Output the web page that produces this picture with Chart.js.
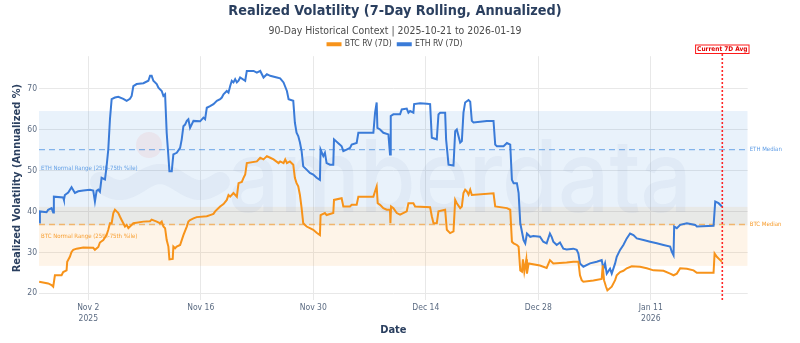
<!DOCTYPE html>
<html><head><meta charset="utf-8">
<script src="https://cdn.jsdelivr.net/npm/chart.js@4.4.1/dist/chart.umd.min.js"></script>
<style>html,body{margin:0;padding:0;background:#fff;overflow:hidden}#wrap{width:800px;height:343px}</style>
</head><body><div id="wrap"><canvas id="c" width="800" height="343"></canvas></div>
<script>
// x values: days since 2025-11-02 00:00
const tickDays = [0, 14, 28, 42, 56, 70];
const tickLabels = [['Nov 2', '2025'], ['Nov 16'], ['Nov 30'], ['Dec 14'], ['Dec 28'], ['Jan 11', '2026']];
const yTicks = [20, 30, 40, 50, 60, 70];
const xRange = [-6.13, 82.06];
const yRange = [18.36, 77.9];

const ethDays = [-6.11,-6.02,-5.19,-4.99,-4.57,-4.36,-4.28,-3.12,-3.03,-2.91,-2.49,-2.08,-1.66,-1.25,-0.62,0.21,0.62,0.83,1.04,1.25,1.45,1.66,2.08,2.28,2.49,2.70,2.91,3.32,3.74,4.36,4.78,5.19,5.40,5.61,6.02,6.86,7.48,7.69,7.89,8.10,8.52,8.73,9.14,9.35,9.56,9.76,9.97,10.10,10.39,10.59,11.01,11.43,11.63,11.84,12.05,12.26,12.46,12.67,13.09,13.92,14.33,14.54,14.75,15.16,15.58,16.00,16.41,16.62,16.83,17.24,17.45,17.66,17.86,18.07,18.28,18.49,18.70,18.90,19.53,19.73,20.57,20.98,21.40,21.81,22.23,22.64,23.47,23.88,24.30,24.72,24.93,25.51,25.71,25.92,26.13,26.34,26.55,26.75,27.17,27.58,28.00,28.42,28.83,28.91,29.25,29.45,29.66,30.08,30.49,30.58,31.32,31.53,31.74,32.15,32.57,32.78,33.40,33.61,35.48,35.69,35.89,35.98,36.31,36.72,37.35,37.55,37.64,37.97,38.80,39.01,39.63,39.84,40.05,40.46,40.55,41.29,42.13,42.54,42.75,43.37,43.58,43.79,44.41,44.53,44.83,45.45,45.66,45.86,46.28,46.49,46.69,46.90,47.32,47.53,47.73,47.94,49.60,50.43,50.64,50.85,51.68,52.10,52.51,52.72,52.93,53.34,53.55,53.76,54.17,54.38,54.59,55.00,55.38,56.21,56.62,57.04,57.45,57.66,57.87,58.29,58.70,59.12,59.53,60.36,60.78,60.99,61.19,61.61,62.44,63.27,63.89,64.10,64.31,64.52,64.93,65.14,65.56,65.76,66.18,66.59,67.01,67.42,67.84,68.26,69.09,69.92,70.75,71.58,72.41,72.62,72.83,72.91,73.24,73.66,74.49,75.53,75.73,77.81,78.02,78.43,78.85];
const ethValues = [37.3,40.0,39.8,40.4,40.8,39.7,43.6,43.4,42.8,44.0,44.6,45.9,44.5,44.9,45.1,45.3,45.1,42.4,45.0,45.3,44.8,48.2,47.8,51.0,55.1,62.5,67.4,67.8,68.0,67.5,67.0,67.5,68.2,70.6,71.1,71.3,71.9,73.1,73.1,71.9,71.1,70.2,69.4,68.2,68.6,59.2,53.5,49.8,49.8,53.9,54.3,55.5,57.6,60.8,61.2,62.1,62.5,60.4,62.1,62.0,62.9,62.5,65.3,65.7,66.2,67.0,67.4,67.8,68.6,69.4,69.0,70.6,71.9,71.5,72.3,71.5,71.9,72.7,71.9,74.3,74.3,73.9,74.3,72.7,73.5,73.1,72.7,72.5,71.5,69.4,67.4,67.0,61.7,59.2,58.4,56.8,54.7,51.0,50.2,49.4,49.0,48.2,47.7,55.1,53.5,54.3,51.8,51.4,51.4,57.6,56.3,55.9,54.7,55.1,55.5,56.3,56.7,59.2,59.2,64.1,66.6,60.4,60.0,59.2,58.8,53.9,63.3,63.7,63.7,64.9,65.1,64.1,64.5,64.1,66.2,66.4,66.3,66.2,58.0,57.6,63.7,64.1,64.1,57.6,51.4,51.2,59.6,60.0,56.8,57.2,64.1,66.6,67.2,66.8,62.1,61.7,62.1,62.1,56.3,55.9,55.9,56.7,56.3,47.7,46.9,46.9,44.5,37.1,33.0,32.2,34.6,33.8,34.0,33.8,32.6,32.2,34.6,33.8,32.6,31.8,32.4,30.9,30.7,30.9,30.6,29.7,27.3,26.5,27.3,27.7,28.1,26.0,27.3,24.8,26.0,24.8,27.3,28.9,30.6,31.8,33.4,34.6,34.2,33.4,33.0,32.6,32.2,31.8,31.4,30.1,29.3,36.3,35.9,36.7,37.1,36.7,36.3,36.5,42.4,42.0,41.2];

const btcDays = [-6.11,-4.99,-4.57,-4.36,-4.15,-3.32,-3.12,-2.70,-2.62,-2.29,-2.08,-1.87,-1.45,-0.62,0.62,0.83,1.25,1.45,1.87,2.28,2.49,2.70,2.91,3.12,3.32,3.53,3.74,3.95,4.15,4.36,4.57,4.78,4.99,5.61,6.86,7.69,7.89,8.52,8.93,9.14,9.35,9.56,9.76,9.97,10.10,10.51,10.59,10.80,11.01,11.43,11.84,12.26,12.46,12.67,13.09,13.50,14.75,15.16,15.58,15.79,16.41,16.83,17.24,17.45,17.66,18.07,18.49,18.70,19.11,19.32,19.53,19.73,20.98,21.40,21.81,22.23,22.64,23.06,23.68,23.88,24.30,24.51,24.72,25.09,25.51,25.71,25.92,26.13,26.34,26.55,26.75,27.17,27.58,28.00,28.42,28.83,28.91,29.45,29.66,30.49,30.58,31.53,31.74,32.57,32.78,33.40,33.61,35.48,35.69,35.89,36.02,36.31,36.72,37.14,37.55,37.60,37.68,37.97,38.39,38.80,39.63,39.84,40.46,40.67,42.54,42.75,42.96,43.37,43.58,44.41,44.62,45.03,45.45,45.66,45.86,46.28,46.49,46.69,46.90,47.11,47.32,47.53,47.73,50.43,50.64,52.10,52.51,52.72,52.93,53.34,53.55,53.76,53.97,54.09,54.26,54.51,54.59,54.80,56.21,57.04,57.45,57.87,59.53,60.36,60.99,61.19,61.40,61.61,62.86,63.89,64.02,64.18,64.43,64.60,65.14,65.56,65.76,66.18,66.59,67.01,67.63,68.67,69.50,70.33,71.58,72.41,72.83,73.24,73.66,74.49,75.32,75.73,77.81,77.94,78.22,78.64,78.85];
const btcValues = [22.8,22.4,22.0,21.6,24.4,24.4,25.2,25.6,27.7,28.9,30.1,30.6,30.9,31.2,31.1,30.6,31.3,32.4,33.0,34.2,35.5,37.1,37.1,39.6,40.4,40.0,39.6,38.7,37.9,37.1,36.3,36.7,35.9,37.1,37.5,37.6,38.0,37.5,37.1,37.5,36.3,35.9,33.0,31.4,28.3,28.4,31.4,31.0,31.4,31.8,34.2,36.3,37.5,37.9,38.3,38.6,38.8,39.1,39.4,40.0,41.2,41.8,42.8,44.0,43.6,44.5,43.6,46.9,47.2,48.2,49.0,51.8,52.2,53.1,52.7,53.5,53.1,52.7,51.8,52.2,51.8,52.7,51.8,52.2,51.4,48.2,46.9,46.1,44.0,40.8,37.1,36.3,35.9,35.5,34.8,34.2,39.1,39.6,39.1,39.6,42.8,43.2,41.2,41.2,41.6,41.6,43.6,43.6,44.9,46.1,42.0,41.6,40.8,40.4,40.4,37.1,41.2,40.8,39.6,39.2,40.0,42.0,42.0,41.2,41.0,38.8,37.1,37.1,40.0,40.4,35.5,34.7,35.1,42.8,42.0,40.8,41.2,44.5,45.3,44.9,44.1,45.3,44.0,44.4,41.2,40.8,40.4,32.6,32.2,31.8,31.4,25.6,25.3,28.3,25.3,28.3,24.8,27.3,26.8,26.2,28.1,27.3,27.5,27.7,27.7,24.4,23.2,22.8,23.1,23.5,26.8,23.2,21.6,20.7,21.6,23.2,24.4,25.2,25.5,26.1,26.6,26.5,26.1,25.6,25.5,24.8,24.4,24.8,26.1,26.0,25.6,25.0,25.0,29.7,28.9,28.1,27.7];

const btcBand = [26.7, 41.1];
const ethBand = [36.6, 64.5];
const btcMedian = 36.8;
const ethMedian = 55.1;
const currentDay = 78.9;

const BTC = '#F7931A', ETH = '#3a7bd8';
const FONT = '"Liberation Sans Narrow", "DejaVu Sans Condensed", "Open Sans", sans-serif';
const NAVY = '#2a3f5f', TICK = '#5b6b82';
Chart.defaults.font.family = FONT;

const pts = (xs, ys) => xs.map((x, i) => ({x, y: ys[i]}));

const deco = {
  id: 'deco',
  afterInit(chart) {
    const lg = chart.legend;
    if (lg) { const f = lg.fit.bind(lg); lg.fit = function () { f(); this.height -= 2.25; }; }
  },
  beforeDatasetsDraw(chart) {
    const {ctx, chartArea: a, scales: {x, y}} = chart;
    ctx.save();
    ctx.beginPath(); ctx.rect(a.left, a.top, a.right - a.left, a.bottom - a.top); ctx.clip();
    const band = (b, col) => {
      const t = y.getPixelForValue(b[1]), bt = y.getPixelForValue(b[0]);
      ctx.fillStyle = col; ctx.fillRect(a.left, t, a.right - a.left, bt - t);
    };
    band(btcBand, 'rgba(247,147,26,0.10)');
    band(ethBand, 'rgba(74,144,226,0.12)');
    // watermark
    ctx.fillStyle = 'rgba(140,155,195,0.10)';
    ctx.font = '500 100px Inter, "Noto Sans", sans-serif';
    const w = ctx.measureText('amberdata').width;
    const s = 464 / w;
    ctx.save(); ctx.translate(228, 212); ctx.scale(s, 1);
    ctx.textBaseline = 'alphabetic'; ctx.fillText('amberdata', 0, 0); ctx.restore();
    ctx.fillStyle = 'rgba(235,160,170,0.16)';
    ctx.beginPath(); ctx.arc(149, 145, 13, 0, Math.PI * 2); ctx.fill();
    ctx.strokeStyle = 'rgba(140,155,195,0.10)'; ctx.lineWidth = 20; ctx.lineCap = 'round';
    ctx.beginPath();
    for (let i = 0; i <= 40; i++) { const px = 100 + i * 3; const py = 182 + 8 * Math.sin(i / 40 * Math.PI * 3); if (i === 0) ctx.moveTo(px, py); else ctx.lineTo(px, py); }
    ctx.stroke();
    // medians
    ctx.lineWidth = 1.3; ctx.setLineDash([6, 4]); ctx.lineCap = 'butt';
    const med = (v, col) => { const py = y.getPixelForValue(v); ctx.strokeStyle = col; ctx.beginPath(); ctx.moveTo(a.left, py); ctx.lineTo(a.right, py); ctx.stroke(); };
    med(ethMedian, 'rgba(74,144,226,0.65)');
    med(btcMedian, 'rgba(247,147,26,0.6)');
    ctx.setLineDash([]);
    // band labels
    ctx.font = '6px ' + FONT; ctx.textBaseline = 'middle'; ctx.textAlign = 'left';
    ctx.fillStyle = 'rgba(74,144,226,0.85)';
    ctx.fillText('ETH Normal Range (25th-75th %ile)', a.left + 2, (y.getPixelForValue(ethBand[0]) + y.getPixelForValue(ethBand[1])) / 2);
    ctx.fillStyle = 'rgba(247,147,26,0.9)';
    ctx.fillText('BTC Normal Range (25th-75th %ile)', a.left + 2, (y.getPixelForValue(btcBand[0]) + y.getPixelForValue(btcBand[1])) / 2);
    ctx.restore();
  },
  afterDraw(chart) {
    const {ctx, chartArea: a, scales: {x, y}} = chart;
    ctx.save();
    ctx.font = '6px ' + FONT; ctx.textBaseline = 'middle'; ctx.textAlign = 'left';
    ctx.fillStyle = 'rgba(74,144,226,0.9)';
    ctx.fillText('ETH Median', a.right + 2, y.getPixelForValue(ethMedian));
    ctx.fillStyle = 'rgba(247,147,26,0.95)';
    ctx.fillText('BTC Median', a.right + 2, y.getPixelForValue(btcMedian));
    const px = x.getPixelForValue(currentDay);
    ctx.strokeStyle = 'rgba(255,0,0,0.85)'; ctx.lineWidth = 1.6; ctx.setLineDash([2, 2]);
    ctx.beginPath(); ctx.moveTo(px, 54); ctx.lineTo(px, a.bottom + 2); ctx.stroke();
    ctx.setLineDash([]);
    ctx.font = 'bold 6.5px ' + FONT;
    const tw = ctx.measureText('Current 7D Avg').width;
    const bw = tw + 4, bh = 9.5, bx = px - bw / 2, by = 44.5;
    ctx.fillStyle = '#fff'; ctx.fillRect(bx, by, bw, bh);
    ctx.strokeStyle = 'rgba(255,0,0,0.9)'; ctx.lineWidth = 1; ctx.strokeRect(bx + 0.5, by + 0.5, bw - 1, bh - 1);
    ctx.fillStyle = '#e00000'; ctx.textAlign = 'center';
    ctx.fillText('Current 7D Avg', px, by + bh / 2 + 0.5);
    ctx.restore();
  }
};

new Chart(document.getElementById('c'), {
  type: 'line',
  data: {
    datasets: [
      {label: 'BTC RV (7D)', data: pts(btcDays, btcValues), borderColor: BTC, backgroundColor: BTC, borderWidth: 2, pointRadius: 0, tension: 0},
      {label: 'ETH RV (7D)', data: pts(ethDays, ethValues), borderColor: ETH, backgroundColor: ETH, borderWidth: 2, pointRadius: 0, tension: 0}
    ]
  },
  options: {
    responsive: false, animation: false, devicePixelRatio: 1,
    layout: {padding: {left: 0, right: 10, top: 0, bottom: 0}},
    plugins: {
      title: {display: true, text: 'Realized Volatility (7-Day Rolling, Annualized)', color: NAVY, font: {size: 14.3, weight: 'bold'}, padding: {top: 3, bottom: 0}},
      subtitle: {display: true, text: '90-Day Historical Context | 2025-10-21 to 2026-01-19', color: '#4a4a4a', font: {size: 10.4}, padding: {top: 4.5, bottom: -3.3}},
      legend: {display: true, position: 'top', labels: {boxWidth: 13, boxHeight: 2, padding: 6, color: '#444', font: {size: 8.6}}},
      tooltip: {enabled: false}
    },
    scales: {
      x: {
        type: 'linear', min: xRange[0], max: xRange[1],
        afterBuildTicks: s => { s.ticks = tickDays.map(v => ({value: v})); },
        ticks: {callback: v => { const i = tickDays.indexOf(v); return i >= 0 ? tickLabels[i] : ''; }, autoSkip: false, maxRotation: 0, padding: 3, color: TICK, font: {size: 8.5}},
        grid: {color: '#e8e8e8', drawTicks: false}, border: {display: false},
        title: {display: true, text: 'Date', color: NAVY, font: {size: 11, weight: 'bold'}, padding: {top: 0, bottom: 6.4}},
        afterFit: s => { s.height = 43; }
      },
      y: {
        min: yRange[0], max: yRange[1],
        afterBuildTicks: s => { s.ticks = yTicks.map(v => ({value: v})); },
        ticks: {padding: 2, color: TICK, font: {size: 8.5}},
        grid: {color: '#e8e8e8', drawTicks: false}, border: {display: false},
        title: {display: true, text: 'Realized Volatility (Annualized %)', color: NAVY, font: {size: 11, weight: 'bold'}, padding: {top: 10.4, bottom: 0}},
        afterFit: s => { s.width = 39; }
      },
      yRight: {
        position: 'right', display: true, grid: {display: false}, ticks: {display: false}, border: {display: false},
        afterFit: s => { s.width = 42.3; }
      }
    }
  },
  plugins: [deco]
});
</script></body></html>
